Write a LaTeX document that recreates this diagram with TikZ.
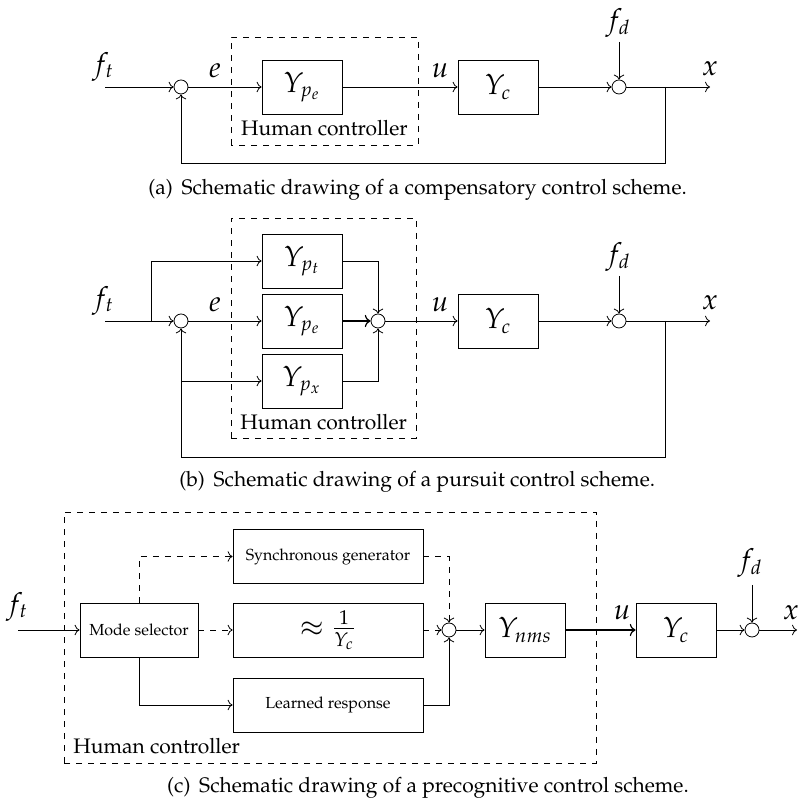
\documentclass[tikz,border=0pt]{standalone}
\usepackage[T1]{fontenc}
\usepackage{mathpazo}
\usepackage{tikz}
\usetikzlibrary{positioning, arrows.meta}

\newcommand{\txtsize}{\fontsize{10.5}{13}\selectfont}
\tikzset{
  block/.style={draw, minimum width=40pt, minimum height=27pt, inner sep=0pt},
  wideblock/.style={block, minimum width=95pt, font=\footnotesize},
  sumnode/.style={draw, circle, minimum size=7pt, inner sep=0pt},
  sig/.style={font=\Large, inner sep=0pt},
  human/.style={dashed},
  hctext/.style={font=\txtsize},
  capt/.style={font=\txtsize},
}

\begin{document}
\begin{tikzpicture}[x=20pt, y=20pt]
  \useasboundingbox (0,0) rectangle (20,20.025);

  % (a) compensatory
  \coordinate (fta) at (2.625,17.85);
  \node[sumnode] (suma1) at (4.525,17.85) {};
  \node[block, font=\Large] (Ypea) at (7.55,17.85) {$Y_{p_e}$};
  \node[block, font=\Large] (Yca) at (12.45,17.85) {$Y_c$};
  \node[sumnode] (suma2) at (15.475,17.85) {};
  \coordinate (fda) at (15.475,18.975);
  \coordinate (bra) at (16.625,17.85);
  \coordinate (fba) at (16.625,15.95);
  \coordinate (outa) at (17.75,17.85);
  \node[sig] (lfta) at (2.575,18.35) {$f_t$};
  \node[sig] (lea) at (5.375,18.25) {$e$};
  \node[sig] (lua) at (11.0,18.25) {$u$};
  \node[sig] (lfda) at (15.45,19.45) {$f_d$};
  \node[sig] (lxa) at (17.75,18.3) {$x$};
  \draw[human] (5.775,16.4) rectangle (10.45,19.1);
  \node[hctext] (hca) at (8.11,16.825) {Human controller};
  \draw[->] (fta) -- (suma1);
  \draw[->] (suma1) -- (Ypea);
  \draw[->] (Ypea) -- (Yca);
  \draw[->] (Yca) -- (suma2);
  \draw[->] (fda) -- (suma2);
  \draw[->] (suma2) -- (outa);
  \draw[->] (bra) -- (fba) -| (suma1);
  \node[capt] (capa) at (10.44,15.275) {(a)\, Schematic drawing of a compensatory control scheme.};

  % (b) pursuit
  \coordinate (ftb) at (2.625,12);
  \coordinate (brb) at (3.775,12);
  \node[sumnode] (sumb1) at (4.525,12) {};
  \node[block, font=\Large] (Yptb) at (7.55,13.5) {$Y_{p_t}$};
  \node[block, font=\Large] (Ypeb) at (7.55,12) {$Y_{p_e}$};
  \node[block, font=\Large] (Ypxb) at (7.55,10.5) {$Y_{p_x}$};
  \node[sumnode] (sumb2) at (9.45,12) {};
  \node[block, font=\Large] (Ycb) at (12.45,12) {$Y_c$};
  \node[sumnode] (sumb3) at (15.475,12) {};
  \coordinate (fdb) at (15.475,13.125);
  \coordinate (brb2) at (16.625,12);
  \coordinate (fbb) at (16.625,8.6);
  \coordinate (outb) at (17.75,12);
  \node[sig] (lftb) at (2.575,12.5) {$f_t$};
  \node[sig] (leb) at (5.375,12.4) {$e$};
  \node[sig] (lub) at (11.0,12.4) {$u$};
  \node[sig] (lfdb) at (15.45,13.6) {$f_d$};
  \node[sig] (lxb) at (17.75,12.45) {$x$};
  \draw[human] (5.775,9.075) rectangle (10.4,14.575);
  \node[hctext] (hcb) at (8.09,9.475) {Human controller};
  \draw (ftb) -- (brb);
  \draw[->] (brb) -- (sumb1);
  \draw[->] (brb) |- (Yptb);
  \draw[->] (sumb1) -- (Ypeb);
  \draw[->] (sumb1 |- Ypxb) -- (Ypxb);
  \draw[->] (Yptb) -| (sumb2);
  \draw[->, semithick] (Ypeb) -- (sumb2);
  \draw[->] (Ypxb) -| (sumb2);
  \draw[->] (sumb2) -- (Ycb);
  \draw[->] (Ycb) -- (sumb3);
  \draw[->] (fdb) -- (sumb3);
  \draw[->] (sumb3) -- (outb);
  \draw[->] (brb2) -- (fbb) -| (sumb1);
  \node[capt] (capb) at (10.43,7.975) {(b)\, Schematic drawing of a pursuit control scheme.};

  % (c) precognitive
  \coordinate (ftc) at (0.45,4.275);
  \node[block, minimum width=59pt, font=\footnotesize] (mode) at (3.475,4.275) {Mode selector};
  \node[wideblock] (sync) at (8.2,6.1125) {Synchronous generator};
  \node[wideblock, font=\Large] (approx) at (8.2,4.275) {$\approx \frac{1}{Y_c}$};
  \node[wideblock] (learn) at (8.2,2.4) {Learned response};
  \node[sumnode] (sumc1) at (11.225,4.275) {};
  \node[block, font=\Large] (Ynms) at (13.125,4.275) {$Y_{nms}$};
  \node[block, font=\Large] (Ycc) at (16.9,4.275) {$Y_c$};
  \node[sumnode] (sumc2) at (18.8,4.275) {};
  \coordinate (fdc) at (18.8,5.4);
  \coordinate (outc) at (19.925,4.275);
  \node[sig] (lftc) at (0.425,4.85) {$f_t$};
  \node[sig] (luc) at (15.55,4.72) {$u$};
  \node[sig] (lfdc) at (18.75,5.95) {$f_d$};
  \node[sig, anchor=east] (lxc) at (19.98,4.72) {$x$};
  \draw[human] (1.6,0.95) rectangle (14.9,7.225);
  \node[hctext, anchor=west, inner sep=0pt] (hcc) at (1.825,1.375) {Human controller};
  \draw[->] (ftc) -- (mode);
  \draw[->, dashed] (mode.north) |- (sync);
  \draw[->, dashed] (mode) -- (approx);
  \draw[->] (mode.south) |- (learn);
  \draw[->, dashed] (sync) -| (sumc1);
  \draw[->, dashed] (approx) -- (sumc1);
  \draw[->] (learn) -| (sumc1);
  \draw[->] (sumc1) -- (Ynms);
  \draw[->, semithick] (Ynms) -- (Ycc);
  \draw[->] (Ycc) -- (sumc2);
  \draw[->] (fdc) -- (sumc2);
  \draw[->] (sumc2) -- (outc);
  \node[capt] (capc) at (10.7,0.325) {(c)\, Schematic drawing of a precognitive control scheme.};
\end{tikzpicture}
\end{document}
